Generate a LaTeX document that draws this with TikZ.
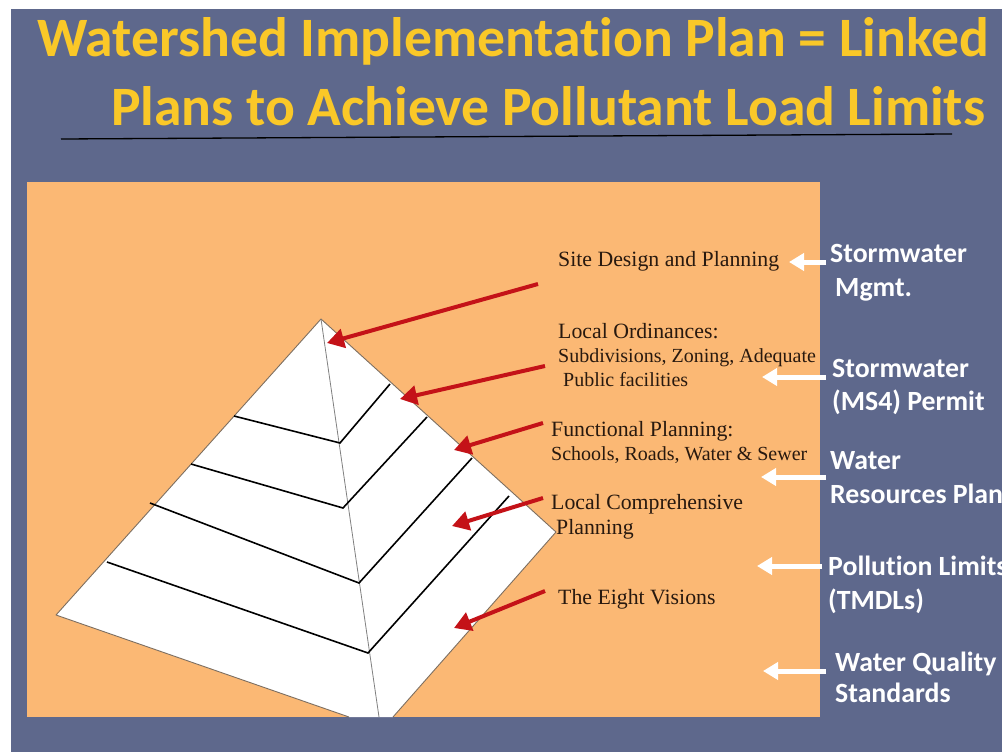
\documentclass[tikz,border=0pt]{standalone}
\usepackage{fontspec}
\setmainfont{Liberation Serif}
\newfontfamily\calib[Ligatures={NoCommon}]{Carlito}
\usetikzlibrary{arrows.meta}
\definecolor{slate}{RGB}{94,104,140}
\definecolor{peach}{RGB}{251,184,116}
\definecolor{gold}{RGB}{250,200,40}
\definecolor{arrred}{RGB}{196,18,24}
\definecolor{edgegray}{RGB}{125,110,95}
\definecolor{inkbrown}{RGB}{40,25,15}
\tikzset{
  titletext/.style={anchor=base west, inner sep=0pt, text=gold, font=\calib\bfseries\fontsize{55.6}{60}\selectfont},
  sidetext/.style={anchor=base west, inner sep=0pt, text=white, font=\calib\bfseries\fontsize{27.8}{30}\selectfont},
  headtext/.style={anchor=base west, inner sep=0pt, text=inkbrown, font=\fontsize{21.8}{24}\selectfont},
  subtext/.style={anchor=base west, inner sep=0pt, text=inkbrown, font=\fontsize{20}{22}\selectfont},
  redarrow/.style={draw=arrred, line width=4pt, -{Triangle[length=17pt,width=19pt]}},
  whitearrow/.style={draw=white, line width=5pt, -{Triangle[length=15pt,width=17pt]}},
  tierline/.style={draw=black, line width=1.6pt},
}
\begin{document}
\begin{tikzpicture}[x=1pt,y=-1pt]
\useasboundingbox (0,0) rectangle (1002,752);
\fill[white] (0,0) rectangle (1002,752);
\fill[slate] (11,9) rectangle (1002,752);
% title
\node[titletext] (t1) at (37,57) {Watershed Implementation Plan = Linked};
\node[titletext] (t2) at (111,125) {Plans to Achieve Pollutant Load Limits};
\coordinate (ul1) at (61,139);
\coordinate (ul2) at (952,134);
\draw[black, line width=1.3pt] (ul1) -- (ul2);
% orange panel
\fill[peach] (27,182) rectangle (820,717);
% pyramid
\coordinate (apex) at (321,319);
\coordinate (lc) at (56,615);
\coordinate (bl) at (349,717);
\coordinate (br) at (393,717);
\coordinate (rc) at (556,532);
\coordinate (rb) at (379,717);
\filldraw[fill=white, draw=edgegray, line width=0.9pt, line join=round] (bl) -- (lc) -- (apex) -- (rc) -- (br);
\draw[gray, line width=0.8pt] (apex) -- (rb);
\draw[tierline] (234,416) -- (340,443) -- (390,384);
\draw[tierline] (191,464) -- (343,508) -- (427,417);
\draw[tierline] (150,503) -- (359,583) -- (472,458);
\draw[tierline] (107,562) -- (368,653) -- (509,496);
% left labels
\node[headtext] (l1) at (558,266) {Site Design and Planning};
\node[headtext] (l2a) at (558,338) {Local Ordinances:};
\node[subtext] (l2b) at (558,362) {Subdivisions, Zoning, Adequate};
\node[subtext] (l2c) at (563,386) {Public facilities};
\node[headtext] (l3a) at (551,436) {Functional Planning:};
\node[subtext] (l3b) at (551,460) {Schools, Roads, Water \& Sewer};
\node[headtext] (l4a) at (551,509) {Local Comprehensive};
\node[headtext] (l4b) at (556,534) {Planning};
\node[headtext] (l5) at (558,604) {The Eight Visions};
% red arrows
\coordinate (r1s) at (538,284); \coordinate (r1e) at (327,343);
\coordinate (r2s) at (545,366); \coordinate (r2e) at (400,399);
\coordinate (r3s) at (543,423); \coordinate (r3e) at (454,450);
\coordinate (r4s) at (543,498); \coordinate (r4e) at (452,526);
\coordinate (r5s) at (545,591); \coordinate (r5e) at (454,628);
\draw[redarrow] (r1s) -- (r1e);
\draw[redarrow] (r2s) -- (r2e);
\draw[redarrow] (r3s) -- (r3e);
\draw[redarrow] (r4s) -- (r4e);
\draw[redarrow] (r5s) -- (r5e);
% right labels
\node[sidetext] (s1a) at (830,262) {Stormwater};
\node[sidetext] (s1b) at (835,296) {Mgmt.};
\node[sidetext] (s2a) at (832,377) {Stormwater};
\node[sidetext] (s2b) at (832,410) {(MS4) Permit};
\node[sidetext] (s3a) at (830,469) {Water};
\node[sidetext] (s3b) at (830,503) {Resources Plan};
\node[sidetext] (s4a) at (828,575) {Pollution Limits};
\node[sidetext] (s4b) at (828,609) {(TMDLs)};
\node[sidetext] (s5a) at (835,671) {Water Quality};
\node[sidetext] (s5b) at (835,702) {Standards};
% white arrows
\coordinate (w1s) at (826,262); \coordinate (w1e) at (789,262);
\coordinate (w2s) at (826,377); \coordinate (w2e) at (762,377);
\coordinate (w3s) at (826,477); \coordinate (w3e) at (761,477);
\coordinate (w4s) at (822,566); \coordinate (w4e) at (757,566);
\coordinate (w5s) at (826,671); \coordinate (w5e) at (763,671);
\draw[whitearrow] (w1s) -- (w1e);
\draw[whitearrow] (w2s) -- (w2e);
\draw[whitearrow] (w3s) -- (w3e);
\draw[whitearrow] (w4s) -- (w4e);
\draw[whitearrow] (w5s) -- (w5e);
\end{tikzpicture}
\end{document}
